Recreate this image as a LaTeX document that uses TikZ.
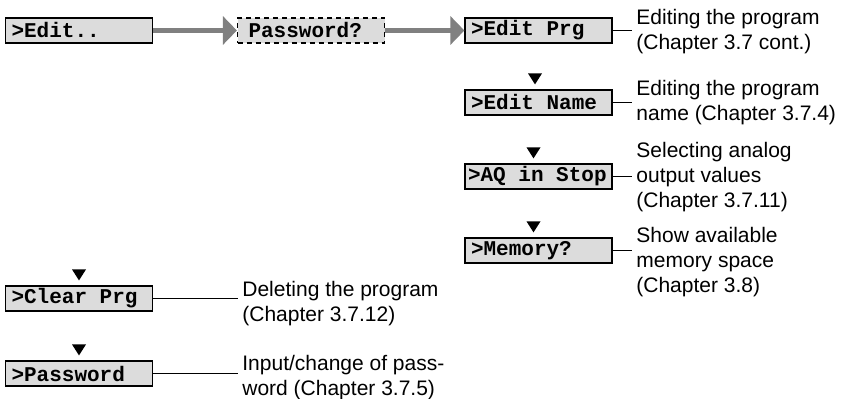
\documentclass[tikz,border=0pt]{standalone}
\usepackage{fontspec}
\setmainfont{Liberation Sans}
\setmonofont{Liberation Mono}
\usetikzlibrary{arrows.meta,positioning}
\definecolor{lcdgray}{HTML}{DCDCDC}
\definecolor{flowgray}{HTML}{808080}
\newcommand\lcdfont{\fontsize{10.5}{12.5}\selectfont\ttfamily\bfseries}
\tikzset{
  lcd/.style     = {draw, line width=0.6pt, fill=lcdgray, rectangle,
                    minimum height=12.5pt, text width=67.5pt, inner xsep=3pt,
                    inner ysep=0pt, align=flush left, font=\lcdfont},
  lcddash/.style = {lcd, dash pattern=on 2.5pt off 2pt},
  note/.style    = {anchor=base west, inner xsep=2pt, inner ysep=0pt, align=left,
                    font=\fontsize{10.5}{12.5}\selectfont},
  flow/.style    = {-{Triangle[length=7pt,width=14pt]}, line width=2.5pt, flowgray},
  lead/.style    = {line width=0.75pt},
}
\begin{document}
\begin{tikzpicture}[x=0.5pt,y=-0.5pt]
\useasboundingbox (0,0) rectangle (844,399);
% menu boxes
\node[lcd] (edit) at (79,30.5) {>Edit..};
\node[lcddash] (pwq) at (311,30.5) {\hspace*{2.5pt}Password?};
\node[lcd] (eprg) at (538.5,30.5) {>Edit Prg};
\node[lcd] (ename) at (538.5,102.5) {>Edit Name};
\node[lcd,inner xsep=1.5pt,text width=70.5pt] (aq) at (538.5,176.5) {>AQ in Stop};
\node[lcd] (mem) at (538.5,250.5) {>Memory?};
\node[lcd] (clr) at (79,298.5) {>Clear Prg};
\node[lcd] (pwd) at (79,373.5) {>Password};
\draw[flow] (edit) -- (pwq);
\draw[flow] (pwq) -- (eprg);
% scroll marks
\foreach \b/\dx in {ename/-3.5,aq/-5,mem/-5,clr/0,pwd/0}
  \fill (\b.north) ++(\dx-7,-16) -- ++(14,0) -- ++(-7,11) -- cycle;
% comments (anchored at the last line)
\node[note] (teprg) at (632,50) {Editing the program\\(Chapter 3.7 cont.)};
\node[note] (tename) at (632,121) {Editing the program\\name (Chapter 3.7.4)};
\node[note] (taq) at (632,208) {Selecting analog\\output values\\(Chapter 3.7.11)};
\node[note] (tmem) at (632,293) {Show available\\memory space\\(Chapter 3.8)};
\node[note] (tclr) at (238,322) {Deleting the program\\(Chapter 3.7.12)};
\node[note] (tpwd) at (238,396) {Input/change of pass-\\word (Chapter 3.7.5)};
\foreach \b/\t in {eprg/teprg,ename/tename,aq/taq,mem/tmem,clr/tclr,pwd/tpwd}
  \draw[lead] (\b.east) -- (\t.west |- \b.east);
\end{tikzpicture}
\end{document}
